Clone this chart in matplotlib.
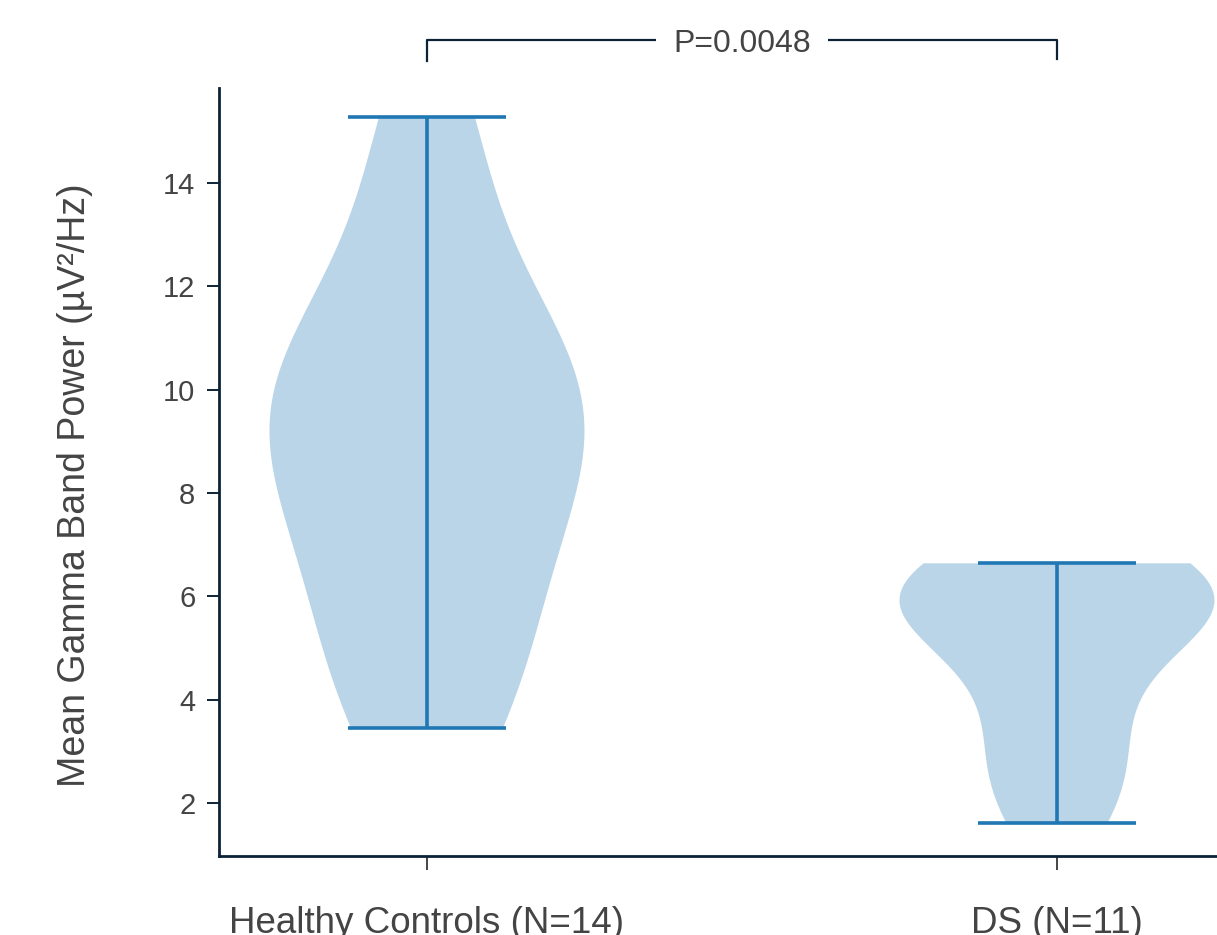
import numpy as np
import matplotlib
matplotlib.use("Agg")
import matplotlib.pyplot as plt

plt.rcParams['font.family'] = ['Liberation Sans', 'DejaVu Sans']

# mean gamma band power per subject (uV^2/Hz)
healthy = [3.45, 3.9, 5.0, 6.2, 7.2, 8.1, 8.8, 9.3, 9.8, 10.3, 10.9, 11.3, 14.0, 15.28]
ds = [1.61, 2.4, 3.2, 4.1, 5.3, 5.7, 5.9, 6.0, 6.2, 6.4, 6.64]
group_labels = ['Healthy Controls (N=14)', 'DS (N=11)']
p_text = 'P=0.0048'

navy = '#0c2236'
grey = '#444444'
blue = '#1f77b4'

fig = plt.figure(figsize=(12.17, 9.35), dpi=100)
ax = fig.add_axes([0.1800, 0.0845, 0.8200, 0.8214])

parts = ax.violinplot([healthy, ds], positions=[1, 2], widths=0.5,
                      showextrema=True)
for body in parts['bodies']:
    body.set_facecolor(blue)
    body.set_edgecolor('none')
    body.set_alpha(0.3)
for key in ('cmaxes', 'cmins', 'cbars'):
    parts[key].set_color(blue)
    parts[key].set_linewidth(2.6)

ax.set_xlim(0.67, 2.254)
ax.set_ylim(0.974, 15.84)
ax.set_xticks([1, 2])
ax.set_xticklabels(group_labels)
ax.set_yticks([2, 4, 6, 8, 10, 12, 14])

for side in ('top', 'right'):
    ax.spines[side].set_visible(False)
for side in ('left', 'bottom'):
    ax.spines[side].set_color(navy)
    ax.spines[side].set_linewidth(2.0)

ax.tick_params(axis='y', length=9, width=1.4, color=navy, pad=8,
               labelsize=21, labelcolor=grey)
ax.tick_params(axis='x', length=10, width=1.4, color=grey, pad=26,
               labelsize=26.5, labelcolor=grey)

ax.set_ylabel('Mean Gamma Band Power (\u00b5V\u00b2/Hz)', fontsize=27,
              color=grey)
ax.yaxis.set_label_coords(-0.126, 0.483)

# significance bracket between the two groups
y_top = 16.77
ax.plot([1, 1, 2, 2], [16.36, y_top, y_top, 16.40], color=navy, lw=1.6,
        clip_on=False)
ax.text(1.5, y_top - 0.08, p_text, ha='center', va='center', fontsize=23,
        color=grey, clip_on=False,
        bbox=dict(boxstyle='square,pad=0.55', facecolor='white',
                  edgecolor='none'))

fig.savefig('out.png', dpi=100)
